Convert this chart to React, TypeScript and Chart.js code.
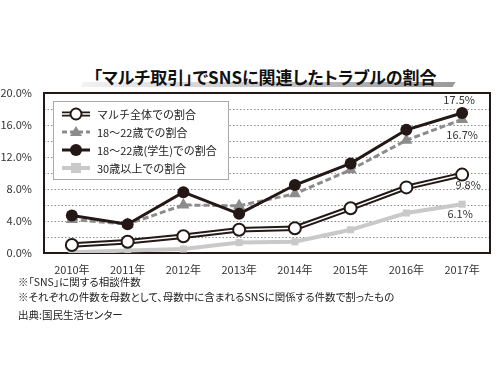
import React, { useEffect, useRef } from "react";
import { Chart, registerables } from "chart.js";

Chart.register(...registerables);

const years = ["2010年", "2011年", "2012年", "2013年", "2014年", "2015年", "2016年", "2017年"];
const overall = [1.0, 1.4, 2.1, 2.9, 3.1, 5.6, 8.2, 9.8];
const age18to22 = [4.2, 3.6, 6.0, 5.9, 7.4, 10.4, 14.1, 16.7];
const students = [4.7, 3.6, 7.6, 4.9, 8.5, 11.2, 15.4, 17.5];
const over30 = [0.1, 0.3, 0.5, 1.3, 1.4, 2.9, 5.0, 6.1];
const legendLabels = ["マルチ全体での割合", "18～22歳での割合", "18～22歳(学生)での割合", "30歳以上での割合"];
const endLabels = ["9.8%", "16.7%", "17.5%", "6.1%"];
const titleText = "「マルチ取引」でSNSに関連したトラブルの割合";
const notes = [
  "※「SNS」に関する相談件数",
  "※それぞれの件数を母数として、母数中に含まれるSNSに関係する件数で割ったもの",
];
const source = "出典:国民生活センター";

const FONT = "'Noto Sans CJK JP', 'Noto Sans', sans-serif";
const BLACK = "#231815";
const GRAY = "#8c8c8c";
const LIGHT = "#c9c9c9";

const framePlugin = {
  id: "frame",
  beforeDatasetsDraw(chart: any) {
    const { ctx, chartArea: a, scales } = chart;
    const y = scales.y;
    ctx.save();
    ctx.strokeStyle = "#8a8a8a";
    ctx.lineWidth = 1;
    ctx.setLineDash([1.5, 2]);
    for (let v = 2; v < 20; v += 2) {
      const py = Math.round(y.getPixelForValue(v)) + 0.5;
      ctx.beginPath(); ctx.moveTo(a.left, py); ctx.lineTo(a.right, py); ctx.stroke();
    }
    ctx.setLineDash([]);
    ctx.strokeStyle = BLACK;
    ctx.lineWidth = 2;
    ctx.strokeRect(a.left, a.top, a.right - a.left, a.bottom - a.top);
    ctx.restore();
  },
  afterDatasetsDraw(chart: any) {
    const { ctx, scales } = chart;
    const x = scales.x, y = scales.y;
    const last = years.length - 1;
    ctx.save();
    ctx.font = `11px ${FONT}`;
    ctx.fillStyle = "#333";
    ctx.textAlign = "center";
    ctx.textBaseline = "middle";
    const px = x.getPixelForValue(last);
    ctx.fillText(endLabels[2], px - 3, y.getPixelForValue(students[last]) - 13);
    ctx.fillText(endLabels[1], px, y.getPixelForValue(age18to22[last]) + 15);
    ctx.fillText(endLabels[0], px + 6, y.getPixelForValue(overall[last]) + 10);
    ctx.fillText(endLabels[3], px - 2, y.getPixelForValue(over30[last]) + 10);

    // legend
    const lx = 53, ly = 101, lw = 175, lh = 78;
    ctx.fillStyle = "#fff";
    ctx.fillRect(lx, ly, lw, lh);
    ctx.strokeStyle = "#aaa";
    ctx.lineWidth = 1;
    ctx.strokeRect(lx + 0.5, ly + 0.5, lw, lh);
    const rows = [114, 132, 150, 168];
    const mx0 = 62, mx1 = 90, mc = 76;
    ctx.textAlign = "left";
    ctx.font = `11px ${FONT}`;
    rows.forEach((ry, i) => {
      ctx.save();
      if (i === 0) {
        ctx.strokeStyle = BLACK; ctx.lineWidth = 5;
        ctx.beginPath(); ctx.moveTo(mx0, ry); ctx.lineTo(mx1, ry); ctx.stroke();
        ctx.strokeStyle = "#fff"; ctx.lineWidth = 1.5;
        ctx.beginPath(); ctx.moveTo(mx0, ry); ctx.lineTo(mx1, ry); ctx.stroke();
        ctx.fillStyle = "#fff"; ctx.strokeStyle = BLACK; ctx.lineWidth = 2;
        ctx.beginPath(); ctx.arc(mc, ry, 5.5, 0, Math.PI * 2); ctx.fill(); ctx.stroke();
      } else if (i === 1) {
        ctx.strokeStyle = GRAY; ctx.lineWidth = 3; ctx.setLineDash([5, 3]);
        ctx.beginPath(); ctx.moveTo(mx0, ry); ctx.lineTo(mx1, ry); ctx.stroke();
        ctx.setLineDash([]);
        ctx.fillStyle = GRAY;
        ctx.beginPath(); ctx.moveTo(mc, ry - 6); ctx.lineTo(mc + 6, ry + 4); ctx.lineTo(mc - 6, ry + 4); ctx.closePath(); ctx.fill();
      } else if (i === 2) {
        ctx.strokeStyle = BLACK; ctx.lineWidth = 3;
        ctx.beginPath(); ctx.moveTo(mx0, ry); ctx.lineTo(mx1, ry); ctx.stroke();
        ctx.fillStyle = BLACK;
        ctx.beginPath(); ctx.arc(mc, ry, 6, 0, Math.PI * 2); ctx.fill();
      } else {
        ctx.strokeStyle = LIGHT; ctx.lineWidth = 4;
        ctx.beginPath(); ctx.moveTo(mx0, ry); ctx.lineTo(mx1, ry); ctx.stroke();
        ctx.fillStyle = LIGHT;
        ctx.fillRect(mc - 5, ry - 5, 10, 10);
      }
      ctx.restore();
      ctx.fillStyle = "#222";
      ctx.fillText(legendLabels[i], 97, ry + 0.5);
    });
    ctx.restore();
  },
};

export default function App() {
  const ref = useRef<HTMLCanvasElement | null>(null);
  useEffect(() => {
    if (!ref.current) return;
    const chart = new Chart(ref.current, {
      type: "line",
      data: {
        labels: years,
        datasets: [
          {
            label: legendLabels[2], data: students, order: 0,
            borderColor: BLACK, borderWidth: 3, pointBackgroundColor: BLACK,
            pointBorderColor: BLACK, pointRadius: 6, pointBorderWidth: 0,
          },
          {
            label: legendLabels[1], data: age18to22, order: 1,
            borderColor: GRAY, borderWidth: 3, borderDash: [6, 3],
            pointStyle: "triangle", pointRadius: 7, pointBackgroundColor: GRAY,
            pointBorderColor: GRAY, pointBorderWidth: 0,
          },
          {
            label: legendLabels[0], data: overall, order: 2,
            borderColor: "#fff", borderWidth: 1.5, pointBackgroundColor: "#fff",
            pointBorderColor: BLACK, pointBorderWidth: 2, pointRadius: 6,
          },
          {
            label: "outline", data: overall, order: 3,
            borderColor: BLACK, borderWidth: 5.5, pointRadius: 0,
          },
          {
            label: legendLabels[3], data: over30, order: 4,
            borderColor: LIGHT, borderWidth: 4, pointStyle: "rect", pointRadius: 5,
            pointBackgroundColor: LIGHT, pointBorderColor: LIGHT, pointBorderWidth: 0,
          },
        ],
      },
      options: {
        animation: false,
        responsive: false,
        layout: { padding: { left: 0, right: 10, top: 93, bottom: 82 } },
        plugins: { legend: { display: false }, tooltip: { enabled: false } },
        scales: {
          x: {
            offset: true,
            grid: { display: false },
            border: { display: false },
            ticks: { color: "#333", font: { family: FONT, size: 11 }, padding: 2, maxRotation: 0 },
            afterFit: (s: any) => { s.height = 40; },
          },
          y: {
            min: 0, max: 20,
            grid: { display: false },
            border: { display: false },
            ticks: {
              stepSize: 4, color: "#333", font: { family: FONT, size: 11 }, padding: 4,
              callback: (v: any) => Number(v).toFixed(1) + "%",
            },
            afterFit: (s: any) => { s.width = 44; },
          },
        },
      },
      plugins: [framePlugin],
    } as any);
    return () => chart.destroy();
  }, []);

  const palt = { fontFeatureSettings: "'palt'" } as any;
  return (
    <div style={{ position: "fixed", left: 0, top: 0, width: 500, height: 375, background: "#fff", overflow: "hidden" }}>
      <div style={{ position: "absolute", left: 82, top: 82, width: 372, height: 5, background: "linear-gradient(90deg, #f2f2f2, #9a9a9a)", transform: "skewX(-30deg)" }} />
      <div style={{ position: "absolute", left: 15, width: 500, top: 66, textAlign: "center", fontFamily: FONT, fontWeight: 700, fontSize: 17, color: "#111", lineHeight: "22px", ...palt }}>
        {titleText}
      </div>
      <canvas ref={ref} width={500} height={375} style={{ position: "absolute", left: 0, top: 0 }} />
      <div style={{ position: "absolute", left: 18, top: 274, fontFamily: FONT, fontSize: 10.5, color: "#222", lineHeight: "15px", ...palt }}>
        <div>{notes[0]}</div>
        <div>{notes[1]}</div>
        <div style={{ marginTop: 3 }}>{source}</div>
      </div>
    </div>
  );
}
